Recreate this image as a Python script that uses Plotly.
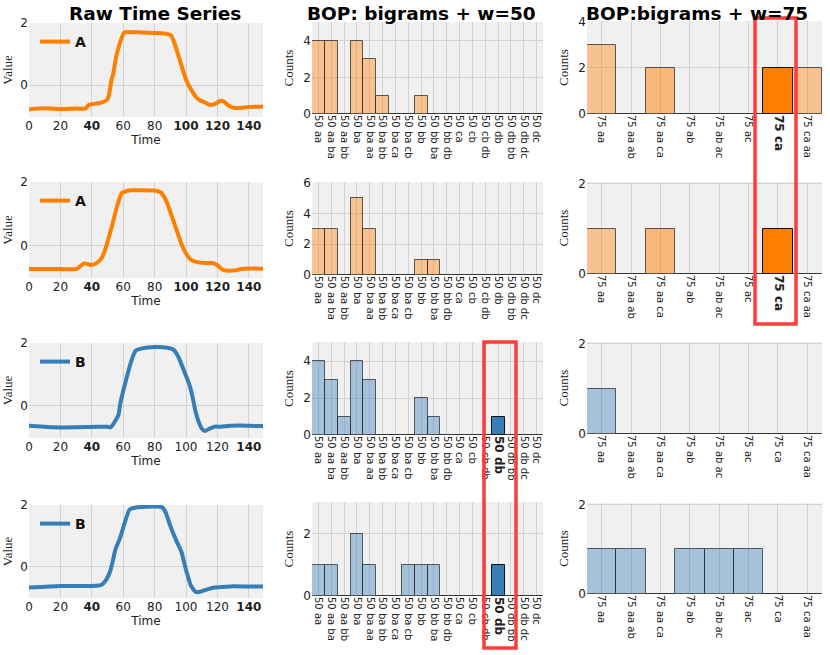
import plotly.graph_objects as go

# ---- raw time series ----
t_a1 = [0, 10, 20, 30, 36, 38, 40, 45, 48, 50, 51, 52.5, 53.5, 55.5, 57.5, 60.5, 62, 70, 80, 88, 90.5, 92.7, 96, 99, 101, 104, 106, 109, 112, 115, 118, 122, 124, 127, 131, 136, 140, 149]
y_a1 = [-0.77, -0.74, -0.76, -0.75, -0.75, -0.63, -0.61, -0.57, -0.52, -0.45, -0.3, 0.17, 0.33, 0.91, 1.3, 1.68, 1.71, 1.70, 1.68, 1.65, 1.6, 1.34, 0.81, 0.33, 0.06, -0.2, -0.36, -0.49, -0.55, -0.63, -0.61, -0.5, -0.52, -0.65, -0.73, -0.72, -0.70, -0.68]

t_a2 = [0, 10, 20, 30, 32, 35, 38, 40, 43, 46, 48, 50, 53, 56, 59, 61, 65, 80, 84, 86, 88, 91, 94, 97, 100, 103, 107, 112, 117, 120, 123, 127, 131, 135, 140, 149]
y_a2 = [-0.74, -0.74, -0.74, -0.74, -0.68, -0.56, -0.59, -0.61, -0.55, -0.41, -0.2, 0.12, 0.65, 1.23, 1.65, 1.7, 1.74, 1.73, 1.67, 1.54, 1.33, 0.91, 0.49, 0.06, -0.25, -0.44, -0.52, -0.55, -0.55, -0.62, -0.75, -0.79, -0.78, -0.74, -0.72, -0.73]

t_b1 = [0, 10, 15, 30, 45, 50, 52, 54, 57, 58, 60, 62, 65, 68, 72, 80, 88, 92, 95, 99, 102, 104, 106, 108, 110, 112, 115, 118, 122, 128, 135, 145, 149]
y_b1 = [-0.63, -0.66, -0.68, -0.68, -0.66, -0.66, -0.68, -0.55, -0.28, 0.04, 0.48, 0.86, 1.41, 1.76, 1.83, 1.87, 1.85, 1.79, 1.57, 1.08, 0.70, 0.32, -0.17, -0.5, -0.72, -0.8, -0.72, -0.66, -0.66, -0.63, -0.62, -0.64, -0.64]

t_b2 = [0, 20, 40, 46, 49, 52, 55, 58, 61, 64, 68, 80, 85, 87, 90, 94, 97, 100, 103, 106, 109, 113, 118, 124, 130, 140, 149]
y_b2 = [-0.68, -0.63, -0.63, -0.6, -0.44, -0.11, 0.55, 0.93, 1.43, 1.85, 1.92, 1.95, 1.92, 1.76, 1.32, 0.82, 0.49, -0.11, -0.6, -0.82, -0.82, -0.75, -0.68, -0.66, -0.64, -0.65, -0.65]

series_names = ["A", "A", "B", "B"]
time_ticks = [0, 20, 40, 60, 80, 100, 120, 140]
bold_ticks = [[40, 100, 120, 140], [40, 100, 120, 140], [40, 140], [40, 140]]

# ---- bag of patterns counts ----
cats50 = ["50 aa", "50 aa ba", "50 aa bb", "50 ba", "50 ba aa", "50 ba bb", "50 ba ca", "50 ba cb",
          "50 bb", "50 bb ba", "50 bb db", "50 ca", "50 cb", "50 cb db", "50 db", "50 db bb",
          "50 db dc", "50 dc"]
counts50_a1 = [4, 4, 0, 4, 3, 1, 0, 0, 1, 0, 0, 0, 0, 0, 0, 0, 0, 0]
counts50_a2 = [3, 3, 0, 5, 3, 0, 0, 0, 1, 1, 0, 0, 0, 0, 0, 0, 0, 0]
counts50_b1 = [4, 3, 1, 4, 3, 0, 0, 0, 2, 1, 0, 0, 0, 0, 1, 0, 0, 0]
counts50_b2 = [1, 1, 0, 2, 1, 0, 0, 1, 1, 1, 0, 0, 0, 0, 1, 0, 0, 0]

cats75 = ["75 aa", "75 aa ab", "75 aa ca", "75 ab", "75 ab ac", "75 ac", "75 ca", "75 ca aa"]
counts75_a1 = [3, 0, 2, 0, 0, 0, 2, 2]
counts75_a2 = [1, 0, 1, 0, 0, 0, 1, 0]
counts75_b1 = [1, 0, 0, 0, 0, 0, 0, 0]
counts75_b2 = [1, 1, 0, 1, 1, 1, 0, 0]

yrange50 = [5, 6, 5, 3]
ytick50 = [[0, 2, 4], [0, 2, 4, 6], [0, 2, 4], [0, 2]]
yrange75 = [4, 2, 2, 2]
ytick75 = [[0, 2, 4], [0, 2], [0, 2], [0, 2]]

# ---- styling ----
W, H = 830, 655
ORANGE = "#ff7f00"
BLUE = "#377eb8"
BG = "#f0f0f0"
GRID = "#d2d2d2"
TICKC = "#222222"

col_x = [(29, 263), (312, 543), (587, 822)]
row_y = [
    [(23, 117), (182, 278), (343, 438), (505, 598)],
    [(22, 114), (182, 275), (342, 435), (502, 596)],
    [(21, 114), (182, 274), (342, 434), (503, 594)],
]


def px(v):
    return v / W


def py(v):
    return 1 - v / H


def xd(c):
    a, b = col_x[c]
    return [px(a), px(b)]


def yd(c, r):
    top, bot = row_y[c][r]
    return [py(bot), py(top)]


def rgba(hexc, a):
    h = hexc.lstrip("#")
    return "rgba(%d,%d,%d,%s)" % (int(h[0:2], 16), int(h[2:4], 16), int(h[4:6], 16), a)


fig = go.Figure()
layout = {}

ts = [(t_a1, y_a1), (t_a2, y_a2), (t_b1, y_b1), (t_b2, y_b2)]
bars50 = [counts50_a1, counts50_a2, counts50_b1, counts50_b2]
bars75 = [counts75_a1, counts75_a2, counts75_b1, counts75_b2]
hl50 = [None, None, "50 db", "50 db"]
hl75 = ["75 ca", "75 ca", None, None]

for r in range(4):
    color = ORANGE if series_names[r] == "A" else BLUE

    # raw series
    n = r * 3 + 1
    xa = "x" if n == 1 else "x%d" % n
    ya = "y" if n == 1 else "y%d" % n
    lg = "legend" if r == 0 else "legend%d" % (r + 1)
    fig.add_trace(go.Scatter(x=ts[r][0], y=ts[r][1], mode="lines", name="<b>%s</b>" % series_names[r],
                             line=dict(color=color, width=4, shape="spline", smoothing=0.5),
                             xaxis=xa, yaxis=ya, legend=lg, showlegend=True))
    ttext = ["<b>%d</b>" % v if v in bold_ticks[r] else str(v) for v in time_ticks]
    layout["xaxis" if n == 1 else "xaxis%d" % n] = dict(
        domain=xd(0), anchor=ya, range=[0, 149], tickvals=time_ticks, ticktext=ttext,
        showgrid=True, gridcolor=GRID, gridwidth=1.3, zeroline=False, ticks="", automargin=False,
        tickfont=dict(size=12, color=TICKC),
        title=dict(text="Time", font=dict(size=12, color=TICKC), standoff=3))
    layout["yaxis" if n == 1 else "yaxis%d" % n] = dict(
        domain=yd(0, r), anchor=xa, range=[-1.02, 2], tickvals=[0, 2],
        showgrid=True, gridcolor=GRID, gridwidth=1.3, zeroline=False, ticks="", automargin=False,
        tickfont=dict(size=12, color=TICKC),
        title=dict(text="Value", font=dict(size=13, family="Liberation Serif", color=TICKC), standoff=6))
    top = row_y[0][r][0]
    layout[lg] = dict(x=px(35), y=py(top + 3), xanchor="left", yanchor="top",
                      bgcolor="rgba(0,0,0,0)", font=dict(size=14, color="#111"),
                      itemwidth=30)

    # bop w=50 and w=75
    for c, cats, vals, hl, yr, ytv in [(1, cats50, bars50[r], hl50[r], yrange50[r], ytick50[r]),
                                       (2, cats75, bars75[r], hl75[r], yrange75[r], ytick75[r])]:
        n = r * 3 + c + 1
        xa = "x%d" % n
        ya = "y%d" % n
        fills = []
        for k in cats:
            if k == hl:
                fills.append(color)
            elif k == "75 aa ca" and color == ORANGE:
                fills.append(rgba(color, 0.5))
            else:
                fills.append(rgba(color, 0.4))
        lines = ["#111111" if k == hl else "rgba(40,40,40,0.75)" for k in cats]
        fig.add_trace(go.Bar(x=cats, y=vals, marker=dict(color=fills, line=dict(color=lines, width=1)),
                             xaxis=xa, yaxis=ya, showlegend=False))
        ctext = ["<b><span style='font-size:12px'>%s</span></b>" % k if k == hl else k for k in cats]
        layout["xaxis%d" % n] = dict(
            domain=xd(c), anchor=ya, type="category", range=[-0.5, len(cats) - 0.5],
            tickvals=cats, ticktext=ctext, tickangle=90, showgrid=True, gridcolor=GRID,
            gridwidth=1.3, zeroline=False, ticks="", automargin=False,
            tickfont=dict(size=10, color=TICKC))
        layout["yaxis%d" % n] = dict(
            domain=yd(c, r), anchor=xa, range=[0, yr + 0.03], tickvals=ytv,
            showgrid=True, gridcolor=GRID, gridwidth=1.3, zeroline=False, ticks="", automargin=False,
            tickfont=dict(size=12, color=TICKC),
            title=dict(text="Counts", font=dict(size=13, family="Liberation Serif", color=TICKC), standoff=6))

titles = [("Raw Time Series", 155), ("BOP: bigrams + w=50", 421), ("BOP:bigrams + w=75", 697)]
annotations = [dict(text="<b>%s</b>" % txt, x=px(cx), y=py(14), xref="paper", yref="paper",
                    xanchor="center", yanchor="middle", showarrow=False,
                    font=dict(size=18.5, color="#000")) for txt, cx in titles]

shapes = [
    dict(type="rect", xref="paper", yref="paper", x0=px(755), x1=px(796), y0=py(324), y1=py(18),
         line=dict(color="#ff3b3b", width=3.5), fillcolor="rgba(0,0,0,0)", layer="above"),
    dict(type="rect", xref="paper", yref="paper", x0=px(484), x1=px(516), y0=py(648), y1=py(342),
         line=dict(color="#ff3b3b", width=3.5), fillcolor="rgba(0,0,0,0)", layer="above"),
]

fig.update_layout(
    width=W, height=H, autosize=False,
    margin=dict(l=0, r=0, t=0, b=0),
    paper_bgcolor="white", plot_bgcolor=BG,
    font=dict(family="DejaVu Sans", color=TICKC),
    bargap=0, annotations=annotations, shapes=shapes,
    **layout,
)

# the page body has a default 8px margin; drop it so the figure sits at the window's corner
fig.write_html("out.html", config={"displayModeBar": False},
               post_script="document.body.style.margin='0';document.body.style.overflow='hidden';")
